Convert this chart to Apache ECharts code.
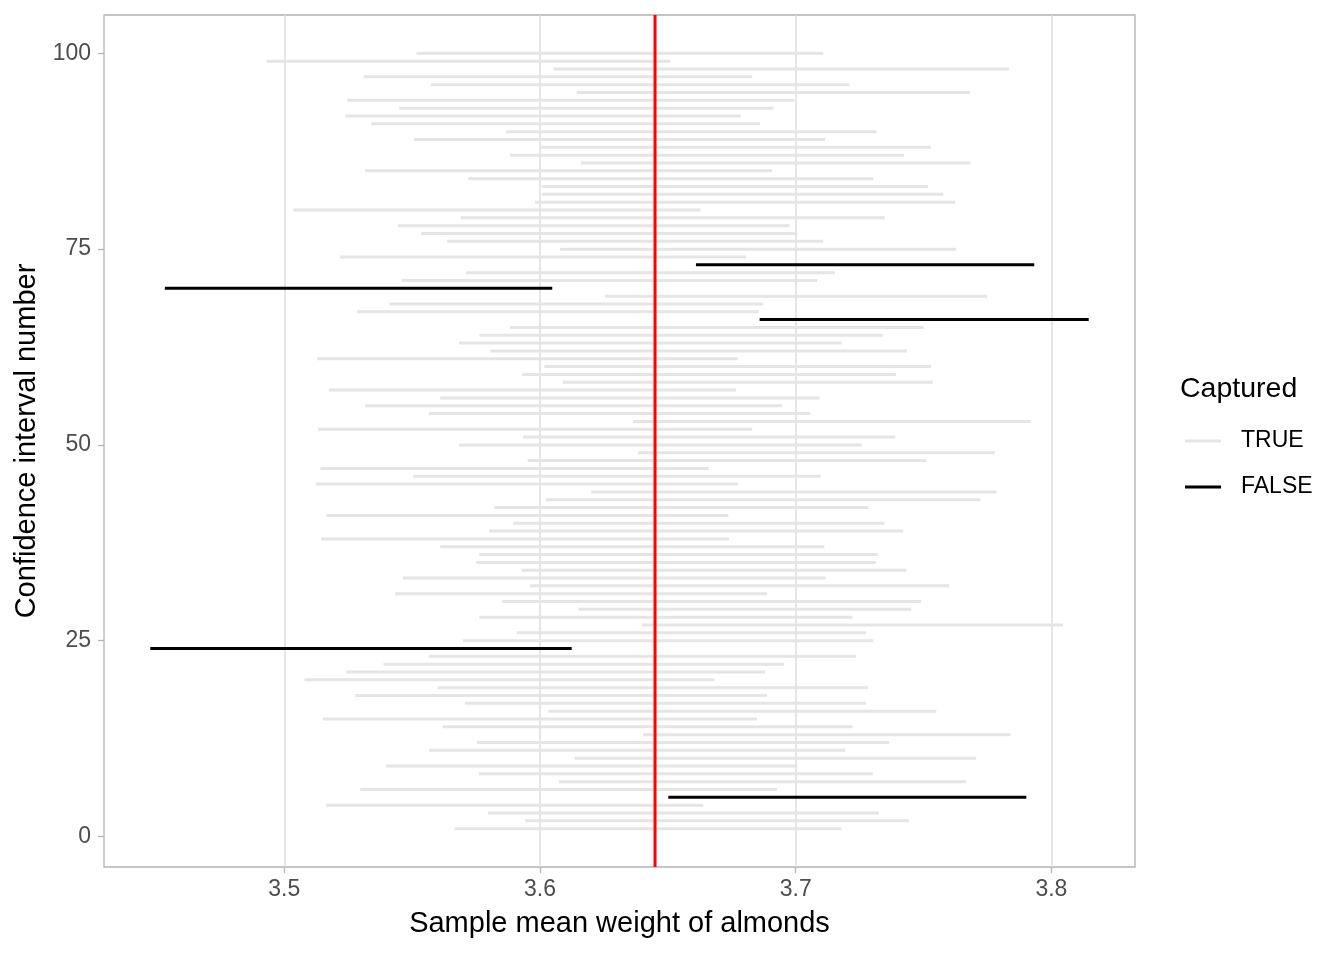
<!DOCTYPE html>
<html>
<head>
<meta charset="utf-8">
<script src="https://cdn.jsdelivr.net/npm/echarts@6/dist/echarts.min.js"></script>
<style>html,body{margin:0;padding:0;background:#fff}#c{width:1344px;height:960px}</style>
</head>
<body>
<div id="c"></div>
<script>
// Confidence interval number 1..100
const intervalIds = Array.from({length: 100}, (_, i) => i + 1);
const lowerBounds = [
3.5665,3.5943,3.5797,3.5163,3.6502,3.5297,3.6074,3.5761,3.5397,3.6136,
3.5567,3.5754,3.6404,3.5620,3.5151,3.6033,3.5706,3.5278,3.5600,3.5079,
3.5242,3.5388,3.5565,3.4476,3.5699,3.5909,3.6400,3.5763,3.6151,3.5852,
3.5433,3.5962,3.5464,3.5928,3.5751,3.5763,3.5610,3.5144,3.5801,3.5895,
3.5165,3.5821,3.6022,3.6201,3.5124,3.5505,3.5141,3.5952,3.6383,3.5684,
3.5935,3.5132,3.6364,3.5565,3.5316,3.5610,3.5175,3.6089,3.5931,3.6017,
3.5129,3.5806,3.5684,3.5763,3.5883,3.6859,3.5285,3.5411,3.6254,3.4533,
3.5459,3.5711,3.6610,3.5218,3.6079,3.5636,3.5536,3.5445,3.5691,3.5036,
3.5981,3.6007,3.6007,3.5720,3.5316,3.6160,3.5883,3.5998,3.5507,3.5868,
3.5340,3.5239,3.5450,3.5246,3.6144,3.5574,3.5311,3.6053,3.4931,3.5517
];
const upperBounds = [
3.7179,3.7443,3.7325,3.6639,3.7902,3.6926,3.7667,3.7301,3.7007,3.7706,
3.7194,3.7366,3.7840,3.7222,3.6849,3.7550,3.7275,3.6888,3.7282,3.6682,
3.6880,3.6955,3.7237,3.6124,3.7304,3.7275,3.8045,3.7222,3.7452,3.7490,
3.6888,3.7600,3.7117,3.7433,3.7313,3.7321,3.7112,3.6739,3.7421,3.7347,
3.6737,3.7285,3.7722,3.7785,3.6775,3.7098,3.6660,3.7510,3.7778,3.7258,
3.7390,3.6830,3.7919,3.7057,3.6947,3.7093,3.6766,3.7536,3.7392,3.7529,
3.6773,3.7435,3.7179,3.7340,3.7500,3.8146,3.6856,3.6873,3.7749,3.6048,
3.7084,3.7153,3.7933,3.6806,3.7627,3.7108,3.7007,3.6976,3.7349,3.6627,
3.7624,3.7577,3.7517,3.7304,3.6907,3.7684,3.7423,3.7529,3.7115,3.7316,
3.6861,3.6785,3.6914,3.6995,3.7682,3.7211,3.6830,3.7833,3.6510,3.7108
];
const trueMean = 3.645;
const xTicks = [3.5, 3.6, 3.7, 3.8];
const yTicks = [0, 25, 50, 75, 100];

const FONT = "'Liberation Sans', Arial, sans-serif";
const capturedData = [], missedData = [];
intervalIds.forEach((id, i) => {
  const lo = lowerBounds[i], hi = upperBounds[i];
  const row = [lo, hi, id];
  if (lo <= trueMean && hi >= trueMean) capturedData.push(row); else missedData.push(row);
});

function segRenderer(color) {
  return function (params, api) {
    const p1 = api.coord([api.value(0), api.value(2)]);
    const p2 = api.coord([api.value(1), api.value(2)]);
    return {
      type: 'line',
      shape: {x1: p1[0], y1: p1[1], x2: p2[0], y2: p2[1]},
      style: {stroke: color, lineWidth: 3, lineCap: 'butt'}
    };
  };
}

function vlineRenderer(params, api) {
  const cs = params.coordSys;
  const p = api.coord([api.value(0), 0]);
  return {
    type: 'line',
    shape: {x1: p[0], y1: cs.y, x2: p[0], y2: cs.y + cs.height},
    style: {stroke: '#ff0000', lineWidth: 3}
  };
}

const chart = echarts.init(document.getElementById('c'), null, {renderer: 'canvas'});
chart.setOption({
  animation: false,
  backgroundColor: '#ffffff',
  textStyle: {fontFamily: FONT},
  grid: {left: 104, top: 15, width: 1031, height: 852, show: true,
         borderColor: '#b3b3b3', borderWidth: 1.3, backgroundColor: 'transparent'},
  xAxis: {
    type: 'value', min: 3.4295, max: 3.8327,
    name: 'Sample mean weight of almonds', nameLocation: 'middle', nameGap: 42,
    nameTextStyle: {fontSize: 29, color: '#000', fontFamily: FONT},
    axisLine: {show: false, onZero: false},
    axisTick: {show: true, length: 6, lineStyle: {color: '#b3b3b3', width: 1.3}, customValues: xTicks},
    axisLabel: {fontSize: 23, color: '#4d4d4d', margin: 11, fontFamily: FONT, customValues: xTicks,
                formatter: v => v.toFixed(1)},
    splitLine: {show: true, lineStyle: {color: '#dedede', width: 1.5}}
  },
  yAxis: {
    type: 'value', min: -3.9, max: 104.9,
    name: 'Confidence interval number', nameLocation: 'middle', nameGap: 58,
    nameTextStyle: {fontSize: 29, color: '#000', fontFamily: FONT},
    axisLine: {show: false, onZero: false},
    axisTick: {show: true, length: 6, lineStyle: {color: '#b3b3b3', width: 1.3}, customValues: yTicks},
    axisLabel: {fontSize: 23, color: '#4d4d4d', margin: 13, fontFamily: FONT, customValues: yTicks,
                padding: [4, 0, 0, 0]},
    splitLine: {show: false}
  },
  legend: {
    data: ['TRUE', 'FALSE'], orient: 'vertical', left: 1185, top: 428, padding: 0,
    itemWidth: 36, itemHeight: 3, itemGap: 20, icon: 'rect',
    textStyle: {fontSize: 23, color: '#000', lineHeight: 26, padding: [0, 0, 0, 15], fontFamily: FONT},
    selectedMode: false
  },
  graphic: [{
    type: 'text', x: 1180, y: 389,
    style: {text: 'Captured', fontSize: 28.5, fontFamily: FONT, fill: '#000', align: 'left', verticalAlign: 'middle'}
  }],
  series: [
    {name: 'TRUE', type: 'custom', data: capturedData, encode: {x: [0, 1], y: 2},
     itemStyle: {color: '#e5e5e5'}, renderItem: segRenderer('#e5e5e5'), z: 2, silent: true},
    {name: 'FALSE', type: 'custom', data: missedData, encode: {x: [0, 1], y: 2},
     itemStyle: {color: '#000000'}, renderItem: segRenderer('#000000'), z: 3, silent: true},
    {name: 'mean', type: 'custom', data: [[trueMean]], encode: {x: 0},
     renderItem: vlineRenderer, z: 5, silent: true, clip: false}
  ]
});
</script>
</body>
</html>
